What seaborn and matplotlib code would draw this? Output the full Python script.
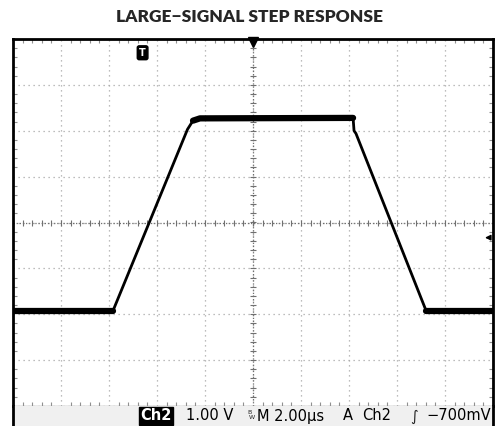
import numpy as np
import pandas as pd
import seaborn as sns
import matplotlib.pyplot as plt
from matplotlib.ticker import MultipleLocator

# scope trace (time in us, 2 us/div; volts, 1 V/div)
time_us = [-10.0, -5.83, -2.73, -2.5, -2.21, 4.17, 4.21, 4.29, 7.21, 7.4, 10.0]
volts = [-1.92, -1.92, 2.03, 2.22, 2.27, 2.28, 2.0, 1.94, -1.92, -1.92, -1.92]
flat_low_a = [0, 1]
flat_high = [3, 5]
flat_low_b = [8, 10]

title = 'LARGE\u2212SIGNAL STEP RESPONSE'
status_labels = ['Ch2', '1.00 V', 'M 2.00\u00b5s', 'A', 'Ch2', '\u2212700mV']
status_x = [140, 186, 257, 343, 362, 491]
status_ha = ['left', 'left', 'left', 'left', 'left', 'right']
trig_pos_us = -4.6
trig_level_v = -0.33

sns.set_style('white')
plt.rcParams['font.family'] = ['DejaVu Sans']

df = pd.DataFrame({'t': time_us, 'v': volts})

fig = plt.figure(figsize=(4.99, 4.26), dpi=100)
W, H = 499, 426
ax = fig.add_axes([13 / W, (H - 406) / H, 480 / W, 367 / H])
sb = fig.add_axes([13 / W, 0, 480 / W, (H - 406) / H])

ax.set_xlim(-10, 10)
ax.set_ylim(-4, 4)
ax.xaxis.set_major_locator(MultipleLocator(2))
ax.yaxis.set_major_locator(MultipleLocator(1))
ax.xaxis.set_minor_locator(MultipleLocator(0.4))
ax.yaxis.set_minor_locator(MultipleLocator(0.2))
ax.grid(True, which='major', color='#a8a8a8', linestyle=(0, (1, 3)), linewidth=0.9)
ax.tick_params(which='both', direction='in', top=True, right=True, bottom=True, left=True,
               colors='#909090', labelbottom=False, labelleft=False)
ax.tick_params(which='major', length=0)
ax.tick_params(which='minor', length=3, width=0.8)

# center cross with small ticks
ax.axhline(0, color='#707070', linestyle=(0, (1, 1.5)), linewidth=0.9)
ax.axvline(0, color='#707070', linestyle=(0, (1, 1.5)), linewidth=0.9)
mx = np.arange(-10, 10.01, 0.4)
my = np.arange(-4, 4.01, 0.2)
ax.plot(mx, np.zeros_like(mx), linestyle='none', marker='|', markersize=5, color='#707070', mew=0.8)
ax.plot(np.zeros_like(my), my, linestyle='none', marker='_', markersize=5, color='#707070', mew=0.8)

sns.lineplot(data=df, x='t', y='v', sort=False, estimator=None, color='black', linewidth=2, ax=ax)
for seg in (flat_low_a, flat_high, flat_low_b):
    part = df.iloc[seg[0]:seg[1] + 1]
    sns.lineplot(data=part, x='t', y='v', sort=False, estimator=None, color='black', linewidth=4.5,
                 ax=ax)
ax.set_xlabel('')
ax.set_ylabel('')

for s in ['top', 'left', 'right']:
    ax.spines[s].set_color('black')
    ax.spines[s].set_linewidth(2)
ax.spines['bottom'].set_color('#909090')
ax.spines['bottom'].set_linewidth(1)

# markers: trigger position, trigger point, trigger level
ax.text(trig_pos_us, 3.7, 'T', ha='center', va='center', color='white', fontsize=7, fontweight='bold',
        bbox=dict(boxstyle='round,pad=0.2', fc='black', ec='black'))
ax.plot([0], [3.93], marker='v', color='black', markersize=7, clip_on=False)
ax.annotate('', xy=(9.55, trig_level_v), xytext=(10, trig_level_v),
            arrowprops=dict(arrowstyle='-|>', color='black', lw=1, mutation_scale=8))

# status bar
sb.set_xlim(13, 493)
sb.set_ylim(0, 1)
sb.set_xticks([])
sb.set_yticks([])
sb.set_facecolor('#f0f0f0')
for s in ['left', 'right']:
    sb.spines[s].set_color('black')
    sb.spines[s].set_linewidth(2)
sb.spines['top'].set_visible(False)
sb.spines['bottom'].set_visible(False)
for i, (lab, x, ha) in enumerate(zip(status_labels, status_x, status_ha)):
    if i == 0:
        sb.text(x, 0.5, lab, ha=ha, va='center', fontsize=10.5, fontweight='bold', color='white',
                bbox=dict(boxstyle='square,pad=0.1', fc='black', ec='black'))
    else:
        sb.text(x, 0.5, lab, ha=ha, va='center', fontsize=10.5, color='black')
sb.text(250, 0.55, 'B', fontsize=4.5, ha='center', va='bottom')
sb.text(252, 0.3, 'W', fontsize=4.5, ha='center', va='bottom')
sb.text(414, 0.5, '\u222b', fontsize=10.5, ha='center', va='center', fontstyle='italic')

fig.text(0.5, 1 - 17 / H, title, ha='center', va='center', fontsize=12.5, fontweight='heavy',
         family=['Lato', 'DejaVu Sans'])

fig.savefig('out.png', dpi=100)
